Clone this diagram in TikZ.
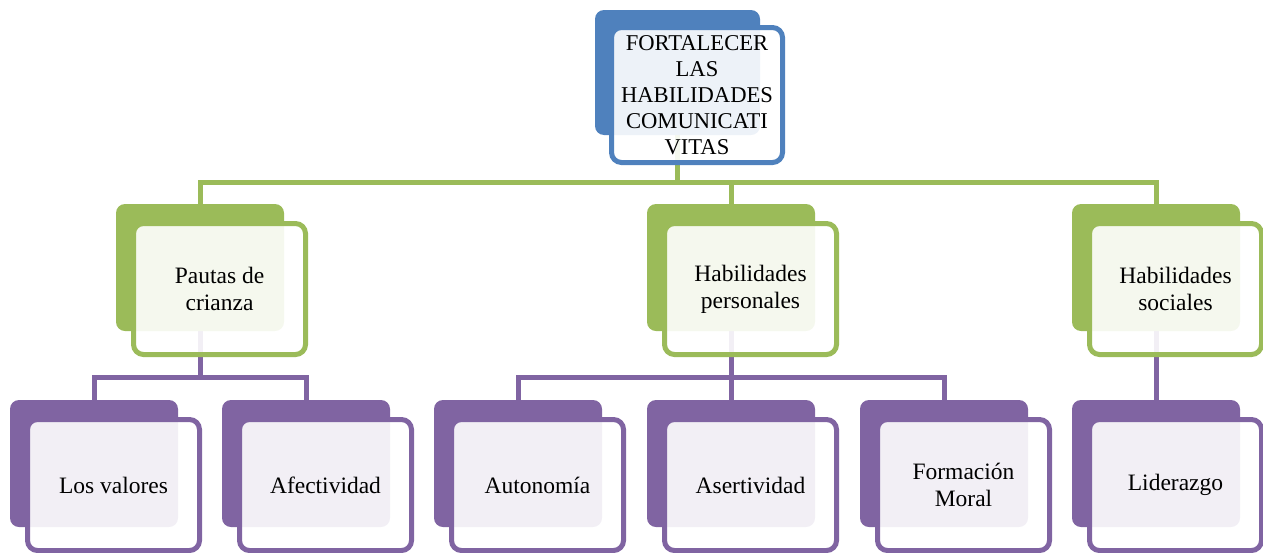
\documentclass[tikz,border=0pt]{standalone}
\usepackage{fontspec}
\setmainfont{Liberation Serif}
\definecolor{cblue}{HTML}{4F81BD}
\definecolor{cgreen}{HTML}{9BBB59}
\definecolor{cpurple}{HTML}{8064A2}
\pgfdeclarelayer{background}
\pgfsetlayers{background,main}
\tikzset{
  backbox/.style={rectangle, rounded corners=9pt, draw=none, inner sep=0pt, outer sep=0pt,
    minimum width=168pt, minimum height=127pt, anchor=north west},
  frontbox/.style={rectangle, rounded corners=10pt, line width=5pt, fill=white, fill opacity=0.9,
    text opacity=1, inner sep=0pt, outer sep=0pt, align=center, anchor=north west,
    minimum width=172pt, minimum height=131pt,
    font=\rmfamily\fontsize{23.5}{27}\selectfont},
  conn/.style={line width=5pt, line join=miter}
}
\newcommand\boxpair[5]{%
  \node[backbox, fill=#4] (#1b) at (#2,#3) {};
  \node[frontbox, draw=#4] (#1) at (#2+17.5,#3+19.5) {#5};
}
\begin{document}
\begin{tikzpicture}[x=1pt,y=-1pt]
\useasboundingbox (0,0) rectangle (1263,552);
% top node
\node[backbox, fill=cblue, minimum width=165pt, minimum height=125pt] (topb) at (595,10) {};
\node[frontbox, draw=cblue, minimum width=171pt, minimum height=135pt,
  font=\rmfamily\fontsize{22.6}{26}\selectfont] (top) at (611.5,27.5)
  {FORTALECER\\LAS\\HABILIDADES\\COMUNICATI\\VITAS};
% green level
\boxpair{g1}{116}{204}{cgreen}{Pautas de\\crianza}
\boxpair{g2}{647}{204}{cgreen}{Habilidades\\personales}
\boxpair{g3}{1072}{204}{cgreen}{Habilidades\\sociales}
% purple level
\boxpair{p1}{10}{400}{cpurple}{Los valores}
\boxpair{p2}{222}{400}{cpurple}{Afectividad}
\boxpair{p3}{434}{400}{cpurple}{Autonomía}
\boxpair{p4}{647}{400}{cpurple}{Asertividad}
\boxpair{p5}{860}{400}{cpurple}{Formación\\Moral}
\boxpair{p6}{1072}{400}{cpurple}{Liderazgo}
\coordinate (gbus) at (0,182);
\coordinate (pbus) at (0,377);
\begin{pgfonlayer}{background}
\draw[conn, cgreen] (topb.south) -- (topb.south |- gbus);
\draw[conn, cgreen] (g1b.north) -- (g1b.north |- gbus) -- (g3b.north |- gbus) -- (g3b.north);
\draw[conn, cgreen] (g2b.north) -- (g2b.north |- gbus);
\draw[conn, cpurple] (g1b.south) -- (g1b.south |- pbus);
\draw[conn, cpurple] (p1b.north) -- (p1b.north |- pbus) -- (p2b.north |- pbus) -- (p2b.north);
\draw[conn, cpurple] (g2b.south) -- (g2b.south |- pbus);
\draw[conn, cpurple] (p3b.north) -- (p3b.north |- pbus) -- (p5b.north |- pbus) -- (p5b.north);
\draw[conn, cpurple] (p4b.north) -- (p4b.north |- pbus);
\draw[conn, cpurple] (g3b.south) -- (p6b.north);
\end{pgfonlayer}
\end{tikzpicture}
\end{document}
